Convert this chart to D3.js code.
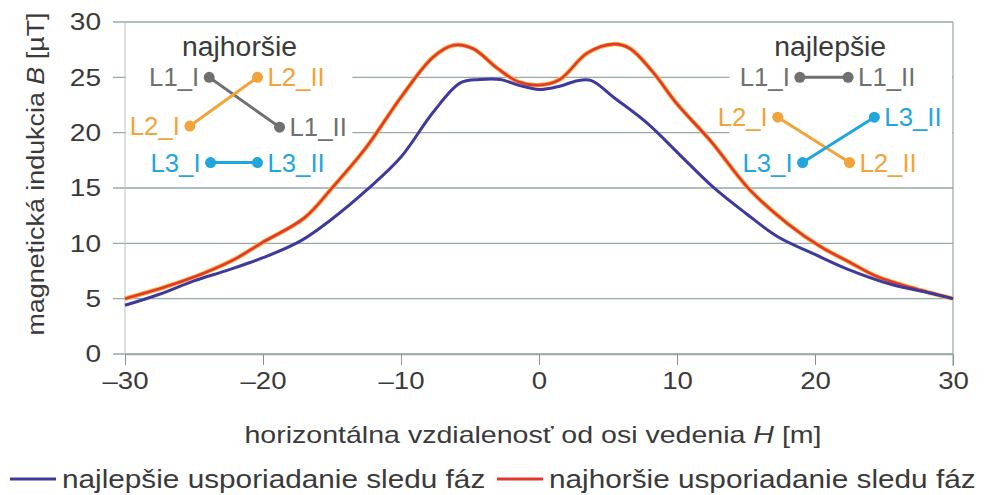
<!DOCTYPE html>
<html lang="sk">
<head>
  <meta charset="utf-8">
  <title>Magnetická indukcia</title>
  <script src="https://d3js.org/d3.v7.min.js"></script>
  <style>
    body { margin: 0; background: #fff; }
    text { font-family: "Liberation Sans", Arial, sans-serif; fill: #3a3a3a; }
  </style>
</head>
<body>
  <div id="chart"></div>
  <script>
    // distance from line axis H [m]
    var hBest  = [-30, -27.5, -25, -22.5, -20, -17.3, -15, -12.5, -10, -7.7, -5.7, -4.3, -2.8, -1.5, 0, 1.5, 2.8, 3.8, 5.4, 7.8, 10.2, 12.6, 15, 17.3, 20, 22.3, 25.5, 28, 30];
    var bBest  = [4.4, 5.4, 6.6, 7.6, 8.7, 10.2, 12.2, 14.8, 17.8, 21.8, 24.5, 24.8, 24.8, 24.3, 23.9, 24.2, 24.7, 24.7, 23.2, 20.9, 18.0, 15.1, 12.7, 10.6, 9.0, 7.7, 6.3, 5.6, 5.0];

    var hWorst = [-30, -27, -24.3, -22, -20, -17, -15, -12.5, -10, -7.7, -6.2, -4.8, -3, -1.5, 0, 1.5, 3.5, 5.4, 6.6, 8.3, 10, 12.4, 15.3, 18, 20.4, 22.5, 24.5, 27, 30];
    var bWorst = [5.0, 6.1, 7.3, 8.6, 10.1, 12.3, 15.0, 18.7, 23.2, 26.8, 27.9, 27.6, 25.8, 24.6, 24.3, 24.8, 27.2, 28.0, 27.6, 25.4, 22.6, 19.3, 14.8, 11.8, 9.7, 8.3, 7.0, 6.0, 5.0];

    var xTicks = [-30, -20, -10, 0, 10, 20, 30];
    var yTicks = [0, 5, 10, 15, 20, 25, 30];

    var seriesNames = ["najlepšie usporiadanie sledu fáz", "najhoršie usporiadanie sledu fáz"];

    // phase arrangement sketches (in chart units H, B)
    var worstTitle = { h: -21.7, b: 27.8, text: "najhoršie" };
    var worstLinks = [
      { from: "L1_I", to: "L1_II", h1: -23.9, b1: 25.0, h2: -18.8, b2: 20.5, color: "#6e716e" },
      { from: "L2_I", to: "L2_II", h1: -25.3, b1: 20.6, h2: -20.4, b2: 25.0, color: "#f2a33a" },
      { from: "L3_I", to: "L3_II", h1: -23.8, b1: 17.3, h2: -20.4, b2: 17.3, color: "#1fa6dc" }
    ];
    var bestTitle = { h: 21.1, b: 27.8, text: "najlepšie" };
    var bestLinks = [
      { from: "L1_I", to: "L1_II", h1: 18.9, b1: 25.0, h2: 22.4, b2: 25.0, color: "#6e716e" },
      { from: "L2_I", to: "L2_II", h1: 17.3, b1: 21.4, h2: 22.5, b2: 17.3, color: "#f2a33a" },
      { from: "L3_I", to: "L3_II", h1: 19.1, b1: 17.3, h2: 24.3, b2: 21.4, color: "#1fa6dc" }
    ];

    var width = 985, height = 495;
    var svg = d3.select("#chart").append("svg")
      .attr("width", width)
      .attr("height", height);

    var x = d3.scaleLinear().domain([-30, 30]).range([125, 953]);
    var y = d3.scaleLinear().domain([0, 30]).range([354, 22]);

    // the scanned type is a bit wider than Liberation Sans, so stretch it
    function wideText(parent, px, py, size, sx, anchor) {
      return parent.append("text")
        .attr("transform", "translate(" + px + "," + py + ") scale(" + sx + ",1)")
        .attr("text-anchor", anchor)
        .style("font-size", size + "px");
    }

    // horizontal grid
    svg.append("g").selectAll("line")
      .data(yTicks)
      .enter().append("line")
        .attr("x1", x(-30) - 12)
        .attr("x2", x(30))
        .attr("y1", function(d) { return y(d); })
        .attr("y2", function(d) { return y(d); })
        .attr("stroke", "#97a9a8")
        .attr("stroke-width", 1.3);

    // left and right frame
    svg.append("line")
      .attr("x1", x(-30)).attr("x2", x(-30))
      .attr("y1", y(30)).attr("y2", y(0))
      .attr("stroke", "#b8c2c2").attr("stroke-width", 1);
    svg.append("line")
      .attr("x1", x(30)).attr("x2", x(30))
      .attr("y1", y(30)).attr("y2", y(0) + 12)
      .attr("stroke", "#9aa5a5").attr("stroke-width", 1.2);

    // white areas behind the sketches
    svg.append("rect")
      .attr("x", x(-30) + 1).attr("y", y(28.9))
      .attr("width", x(-13.6) - x(-30)).attr("height", y(16.4) - y(28.9))
      .attr("fill", "#fff");
    svg.append("rect")
      .attr("x", x(13.8)).attr("y", y(28.9))
      .attr("width", x(30) - x(13.8) - 1).attr("height", y(16.4) - y(28.9))
      .attr("fill", "#fff");

    // x axis
    var xAxis = svg.append("g")
      .attr("transform", "translate(0," + y(0) + ")")
      .call(d3.axisBottom(x).tickValues(xTicks).tickSize(11).tickSizeOuter(0)
        .tickFormat(function(d) { return d < 0 ? "–" + Math.abs(d) : d; }));
    xAxis.select(".domain").attr("stroke", "#97a9a8").attr("stroke-width", 1.3);
    xAxis.selectAll(".tick line").attr("stroke", "#8a9494");
    xAxis.selectAll(".tick text")
      .attr("y", 19)
      .attr("transform", "scale(1.2,1)")
      .style("font-size", "23px")
      .style("font-family", "Liberation Sans, Arial, sans-serif")
      .attr("fill", "#3a3a3a");

    // y tick labels
    yTicks.forEach(function(d) {
      wideText(svg, 101, y(d), 23, 1.22, "end")
        .attr("dy", "0.36em")
        .text(d);
    });

    // curves
    var line = function(hs, bs) {
      return d3.line()
        .x(function(d, i) { return x(hs[i]); })
        .y(function(d, i) { return y(bs[i]); })
        .curve(d3.curveCatmullRom.alpha(0.5))(bs);
    };

    svg.append("path")
      .attr("d", line(hWorst, bWorst))
      .attr("fill", "none")
      .attr("stroke", "#f7b443")
      .attr("stroke-width", 4.5)
      .attr("stroke-linejoin", "round");
    svg.append("path")
      .attr("d", line(hWorst, bWorst))
      .attr("fill", "none")
      .attr("stroke", "#e4372b")
      .attr("stroke-width", 2.6)
      .attr("stroke-linejoin", "round");
    svg.append("path")
      .attr("d", line(hBest, bBest))
      .attr("fill", "none")
      .attr("stroke", "#3d3a9c")
      .attr("stroke-width", 3)
      .attr("stroke-linejoin", "round");

    // phase sketches
    function drawSketch(title, links) {
      var g = svg.append("g");
      wideText(g, x(title.h), y(title.b), 27, 1.05, "middle")
        .attr("dy", "0.36em")
        .text(title.text);

      links.forEach(function(l) {
        g.append("line")
          .attr("x1", x(l.h1)).attr("y1", y(l.b1))
          .attr("x2", x(l.h2)).attr("y2", y(l.b2))
          .attr("stroke", l.color)
          .attr("stroke-width", 3);
        [[l.h1, l.b1], [l.h2, l.b2]].forEach(function(p) {
          g.append("circle")
            .attr("cx", x(p[0])).attr("cy", y(p[1]))
            .attr("r", 5.5)
            .attr("fill", l.color);
        });
        // label of the first end sits left of it, second end right of it
        wideText(g, x(l.h1) - 10, y(l.b1), 25, 1.03, "end")
          .attr("dy", "0.36em")
          .style("fill", l.color)
          .text(l.from);
        wideText(g, x(l.h2) + 10, y(l.b2), 25, 1.03, "start")
          .attr("dy", "0.36em")
          .style("fill", l.color)
          .text(l.to);
      });
    }
    drawSketch(worstTitle, worstLinks);
    drawSketch(bestTitle, bestLinks);

    // axis titles
    var xt = wideText(svg, 533, 443, 24, 1.19, "middle");
    xt.append("tspan").text("horizontálna vzdialenosť od osi vedenia ");
    xt.append("tspan").style("font-style", "italic").text("H");
    xt.append("tspan").text(" [m]");

    var yt = svg.append("text")
      .attr("transform", "translate(44,174) rotate(-90) scale(1.12,1)")
      .attr("text-anchor", "middle")
      .style("font-size", "24px");
    yt.append("tspan").text("magnetická indukcia ");
    yt.append("tspan").style("font-style", "italic").text("B");
    yt.append("tspan").text(" [µT]");

    // legend
    var legendColors = ["#3d3a9c", "#e4372b"];
    var legendX = [10, 497];
    seriesNames.forEach(function(name, i) {
      svg.append("line")
        .attr("x1", legendX[i]).attr("x2", legendX[i] + 46)
        .attr("y1", 479).attr("y2", 479)
        .attr("stroke", legendColors[i])
        .attr("stroke-width", 3);
      wideText(svg, legendX[i] + 52, 479, 25, 1.19, "start")
        .attr("dy", "0.36em")
        .text(name);
    });
  </script>
</body>
</html>
